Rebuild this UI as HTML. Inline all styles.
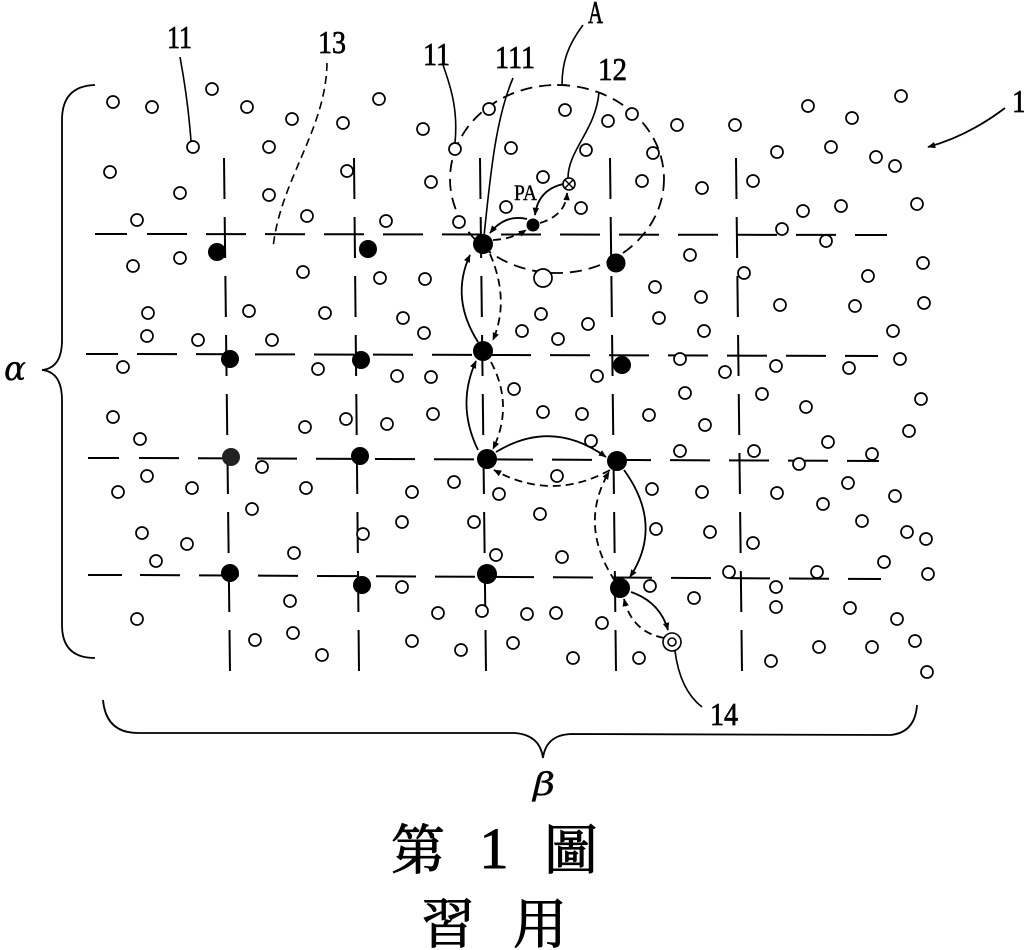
<!DOCTYPE html>
<html><head><meta charset="utf-8"><style>
html,body{margin:0;padding:0;background:#fff;}
svg{display:block;}
</style></head><body>
<svg width="1024" height="950" viewBox="0 0 1024 950" xmlns="http://www.w3.org/2000/svg">
<defs>
<marker id="ah" viewBox="0 0 10 10" refX="9" refY="5" markerWidth="11" markerHeight="8" markerUnits="userSpaceOnUse" orient="auto"><path d="M0,1 L10,5 L0,9 z" fill="#000"/></marker>
</defs>
<rect width="1024" height="950" fill="#fff"/>

<!-- grid horizontal -->
<g stroke="#000" stroke-width="2" fill="none">
<line x1="95" y1="234" x2="127" y2="234"/>
<line x1="147" y1="234" x2="887" y2="235" stroke-dasharray="40 19"/>
<line x1="86" y1="354" x2="118" y2="354"/>
<line x1="137" y1="354" x2="878" y2="356" stroke-dasharray="40 19"/>
<line x1="88" y1="458" x2="119" y2="458"/>
<line x1="139" y1="458" x2="879" y2="461" stroke-dasharray="40 19"/>
<line x1="88" y1="575" x2="122" y2="575"/>
<line x1="140" y1="575" x2="881" y2="579" stroke-dasharray="40 19"/>
<!-- verticals -->
<line x1="224" y1="158" x2="230" y2="672" stroke-dasharray="41 18"/>
<line x1="354" y1="158" x2="359" y2="672" stroke-dasharray="41 18"/>
<line x1="480" y1="158" x2="486" y2="672" stroke-dasharray="41 18"/>
<line x1="610" y1="158" x2="616" y2="672" stroke-dasharray="41 18"/>
<line x1="736" y1="158" x2="742" y2="672" stroke-dasharray="41 18"/>
</g>

<!-- dashed circle A -->
<ellipse cx="557" cy="179" rx="107" ry="94" fill="none" stroke="#000" stroke-width="1.8" stroke-dasharray="12 7"/>

<!-- open circles -->
<g fill="#fff" stroke="#000" stroke-width="1.7">
<circle cx="113" cy="102" r="6"/><circle cx="152" cy="107" r="6"/><circle cx="212" cy="89" r="6"/><circle cx="247" cy="107" r="6"/><circle cx="292" cy="119" r="6"/><circle cx="343" cy="123" r="6"/><circle cx="379" cy="99" r="6"/><circle cx="193" cy="147" r="6"/><circle cx="269" cy="147" r="6"/><circle cx="110" cy="172" r="6"/><circle cx="180" cy="193" r="6"/><circle cx="269" cy="195" r="6"/><circle cx="347" cy="171" r="6"/><circle cx="137" cy="220" r="6"/><circle cx="307" cy="216" r="6"/><circle cx="180" cy="258" r="6"/><circle cx="133" cy="266" r="6"/><circle cx="303" cy="272" r="6"/><circle cx="148" cy="313" r="6"/><circle cx="249" cy="311" r="6"/><circle cx="325" cy="313" r="6"/><circle cx="380" cy="278" r="6"/>
<circle cx="423" cy="129" r="6"/><circle cx="489" cy="109" r="6"/><circle cx="455" cy="149" r="6"/><circle cx="511" cy="148" r="6"/><circle cx="565" cy="110" r="6"/><circle cx="608" cy="121" r="6"/><circle cx="632" cy="114" r="6"/><circle cx="677" cy="125" r="6"/><circle cx="586" cy="150" r="6"/><circle cx="653" cy="153" r="6"/><circle cx="431" cy="182" r="6"/><circle cx="543" cy="177" r="6"/><circle cx="642" cy="181" r="6"/><circle cx="506" cy="207" r="6"/><circle cx="581" cy="208" r="6"/><circle cx="386" cy="221" r="6"/><circle cx="459" cy="222" r="6"/><circle cx="425" cy="279" r="6"/><circle cx="655" cy="287" r="6"/><circle cx="403" cy="318" r="6"/><circle cx="424" cy="333" r="6"/><circle cx="541" cy="314" r="6"/><circle cx="522" cy="331" r="6"/><circle cx="588" cy="324" r="6"/><circle cx="659" cy="318" r="6"/><circle cx="558" cy="339" r="6"/><circle cx="690" cy="255" r="6"/>
<circle cx="543" cy="278" r="9"/>
<circle cx="735" cy="125" r="6"/><circle cx="808" cy="106" r="6"/><circle cx="852" cy="118" r="6"/><circle cx="901" cy="96" r="6"/><circle cx="777" cy="152" r="6"/><circle cx="831" cy="147" r="6"/><circle cx="876" cy="157" r="6"/><circle cx="895" cy="166" r="6"/><circle cx="702" cy="188" r="6"/><circle cx="753" cy="181" r="6"/><circle cx="803" cy="211" r="6"/><circle cx="841" cy="206" r="6"/><circle cx="917" cy="204" r="6"/><circle cx="782" cy="229" r="6"/><circle cx="826" cy="241" r="6"/><circle cx="744" cy="273" r="6"/><circle cx="868" cy="276" r="6"/><circle cx="923" cy="263" r="6"/><circle cx="701" cy="297" r="6"/><circle cx="780" cy="305" r="6"/><circle cx="855" cy="306" r="6"/><circle cx="924" cy="303" r="6"/><circle cx="704" cy="331" r="6"/><circle cx="893" cy="331" r="6"/>
<circle cx="147" cy="336" r="6"/><circle cx="198" cy="340" r="6"/><circle cx="272" cy="340" r="6"/><circle cx="123" cy="367" r="6"/><circle cx="318" cy="369" r="6"/><circle cx="113" cy="417" r="6"/><circle cx="140" cy="439" r="6"/><circle cx="346" cy="419" r="6"/><circle cx="305" cy="427" r="6"/><circle cx="147" cy="476" r="6"/><circle cx="118" cy="492" r="6"/><circle cx="192" cy="488" r="6"/><circle cx="262" cy="467" r="6"/><circle cx="306" cy="488" r="6"/><circle cx="252" cy="509" r="6"/><circle cx="142" cy="533" r="6"/><circle cx="187" cy="544" r="6"/><circle cx="156" cy="561" r="6"/><circle cx="294" cy="553" r="6"/><circle cx="363" cy="534" r="6"/><circle cx="290" cy="601" r="6"/><circle cx="137" cy="619" r="6"/><circle cx="255" cy="640" r="6"/><circle cx="293" cy="633" r="6"/><circle cx="322" cy="655" r="6"/>
<circle cx="680" cy="359" r="6"/><circle cx="397" cy="376" r="6"/><circle cx="431" cy="377" r="6"/><circle cx="514" cy="389" r="6"/><circle cx="597" cy="376" r="6"/><circle cx="685" cy="393" r="6"/><circle cx="433" cy="414" r="6"/><circle cx="387" cy="424" r="6"/><circle cx="543" cy="412" r="6"/><circle cx="582" cy="414" r="6"/><circle cx="649" cy="415" r="6"/><circle cx="591" cy="441" r="6"/><circle cx="680" cy="451" r="6"/><circle cx="412" cy="492" r="6"/><circle cx="454" cy="482" r="6"/><circle cx="499" cy="494" r="6"/><circle cx="557" cy="476" r="6"/><circle cx="652" cy="489" r="6"/><circle cx="402" cy="522" r="6"/><circle cx="474" cy="522" r="6"/><circle cx="540" cy="514" r="6"/><circle cx="656" cy="529" r="6"/><circle cx="496" cy="555" r="6"/><circle cx="562" cy="557" r="6"/><circle cx="402" cy="587" r="6"/><circle cx="650" cy="586" r="6"/><circle cx="438" cy="613" r="6"/><circle cx="482" cy="611" r="6"/><circle cx="527" cy="614" r="6"/><circle cx="556" cy="613" r="6"/><circle cx="602" cy="623" r="6"/><circle cx="412" cy="641" r="6"/><circle cx="461" cy="650" r="6"/><circle cx="513" cy="643" r="6"/><circle cx="573" cy="658" r="6"/><circle cx="639" cy="658" r="6"/>
<circle cx="725" cy="372" r="6"/><circle cx="776" cy="366" r="6"/><circle cx="849" cy="368" r="6"/><circle cx="900" cy="359" r="6"/><circle cx="762" cy="394" r="6"/><circle cx="806" cy="407" r="6"/><circle cx="921" cy="399" r="6"/><circle cx="705" cy="425" r="6"/><circle cx="909" cy="431" r="6"/><circle cx="754" cy="451" r="6"/><circle cx="828" cy="442" r="6"/><circle cx="872" cy="454" r="6"/><circle cx="799" cy="464" r="6"/><circle cx="702" cy="492" r="6"/><circle cx="777" cy="493" r="6"/><circle cx="823" cy="504" r="6"/><circle cx="848" cy="483" r="6"/><circle cx="895" cy="496" r="6"/><circle cx="710" cy="532" r="6"/><circle cx="753" cy="543" r="6"/><circle cx="862" cy="521" r="6"/><circle cx="907" cy="532" r="6"/><circle cx="926" cy="539" r="6"/><circle cx="729" cy="572" r="6"/><circle cx="817" cy="572" r="6"/><circle cx="884" cy="562" r="6"/><circle cx="928" cy="574" r="6"/><circle cx="776" cy="587" r="6"/><circle cx="694" cy="598" r="6"/><circle cx="776" cy="607" r="6"/><circle cx="850" cy="608" r="6"/><circle cx="897" cy="619" r="6"/><circle cx="915" cy="641" r="6"/><circle cx="819" cy="647" r="6"/><circle cx="872" cy="647" r="6"/><circle cx="771" cy="661" r="6"/><circle cx="927" cy="672" r="6"/>
</g>

<!-- special markers -->
<g fill="#fff" stroke="#000" stroke-width="1.6">
<circle cx="569" cy="184" r="6"/>
<circle cx="672" cy="642" r="9"/>
<circle cx="672" cy="642" r="4"/>
</g>
<g stroke="#000" stroke-width="1.4">
<line x1="565" y1="180" x2="573" y2="188"/>
<line x1="573" y1="180" x2="565" y2="188"/>
</g>

<!-- filled dots -->
<g fill="#000">
<circle cx="217" cy="252" r="9"/><circle cx="368" cy="249" r="9"/><circle cx="483" cy="244" r="10"/><circle cx="616" cy="263" r="9.5"/>
<circle cx="230" cy="359" r="9"/><circle cx="361" cy="360" r="9"/><circle cx="483" cy="351" r="10"/><circle cx="622" cy="365" r="9"/>
<circle cx="231" cy="457" r="9" fill="#222"/><circle cx="360" cy="456" r="9"/><circle cx="487" cy="459" r="10"/><circle cx="617" cy="461" r="10"/>
<circle cx="230" cy="573" r="9"/><circle cx="362" cy="585" r="9"/><circle cx="487" cy="574" r="10"/><circle cx="620" cy="588" r="10"/>
<circle cx="533" cy="225" r="6.5"/>
</g>

<!-- arrows solid -->
<g fill="none" stroke="#000" stroke-width="1.8" marker-end="url(#ah)">
<path d="M478,342 Q450,298 470,255"/>
<path d="M478,450 Q456,405 476,361"/>
<path d="M496,452 Q552,418 606,457"/>
<path d="M624,470 Q664,525 630,577"/>
<path d="M631,592 Q660,602 668,630"/>
<path d="M527,219 Q505,214 490,233"/>
<path d="M563,184 Q538,190 535,215"/>
<path d="M1005,108 Q968,136 928,147"/>
</g>
<!-- arrows dashed -->
<g fill="none" stroke="#000" stroke-width="1.8" stroke-dasharray="8 5" marker-end="url(#ah)">
<path d="M490,254 Q510,300 493,340"/>
<path d="M491,362 Q514,405 493,449"/>
<path d="M610,470 Q552,502 494,470"/>
<path d="M615,581 Q578,525 609,472"/>
<path d="M664,638 Q632,632 624,599"/>
<path d="M493,240 Q512,239 526,230"/>
<path d="M540,223 Q566,215 567,193"/>
</g>

<!-- leaders -->
<g fill="none" stroke="#000" stroke-width="1.6">
<path d="M180,57 Q188,100 191,141"/>
<path d="M443,65 C452,90 458,112 455,143"/>
<path d="M513,78 C495,120 490,180 484,236"/>
<path d="M583,25 C568,45 562,62 562,85"/>
<line x1="557" y1="85" x2="567" y2="85"/>
<path d="M599,92 C596,130 568,150 568,178"/>
<path d="M702,707 Q680,690 675,651"/>
<path d="M327,63 C326,130 280,180 273,248" stroke-dasharray="8 5"/>
<!-- left brace -->
<path d="M95,85 Q62,86 62,120 L62,340 Q62,368 42,370 Q62,372 62,400 L62,625 Q62,658 95,658" stroke-width="1.8"/>
<!-- bottom brace -->
<path d="M103,700 Q106,733 138,733 L515,733 Q540,735 543,758 Q546,735 571,734 L890,735 Q915,733 917,705" stroke-width="1.8"/>
</g>

<!-- labels -->
<g font-family="'Liberation Serif', serif" font-size="32" fill="#000" stroke="#000" stroke-width="0.7">
<text x="167" y="48" textLength="25" lengthAdjust="spacingAndGlyphs">11</text>
<text x="318" y="53" textLength="28" lengthAdjust="spacingAndGlyphs">13</text>
<text x="423" y="65" textLength="27" lengthAdjust="spacingAndGlyphs">11</text>
<text x="495" y="68" textLength="40" lengthAdjust="spacingAndGlyphs">111</text>
<text x="588" y="23" textLength="15" lengthAdjust="spacingAndGlyphs">A</text>
<text x="598" y="80" textLength="29" lengthAdjust="spacingAndGlyphs">12</text>
<text x="1012" y="112" textLength="14" lengthAdjust="spacingAndGlyphs">1</text>
<text x="710" y="725" textLength="28" lengthAdjust="spacingAndGlyphs">14</text>
<text x="514" y="200" font-size="22" stroke-width="0.4" textLength="23" lengthAdjust="spacingAndGlyphs">PA</text>
<text x="4" y="380" font-size="34" stroke-width="0.3" font-style="italic" font-family="'DejaVu Serif', serif" textLength="22" lengthAdjust="spacingAndGlyphs">α</text>
<text x="533" y="795" font-size="32" stroke-width="0.3" font-style="italic" font-family="'DejaVu Serif', serif" textLength="22" lengthAdjust="spacingAndGlyphs">β</text>
</g>
<g font-family="'Liberation Serif', 'Noto Serif CJK SC', serif" font-size="54" fill="#000" stroke="#000" stroke-width="1" text-anchor="middle">
<text x="418" y="869">第</text>
<text x="494" y="868" font-size="58">1</text>
<text x="571" y="869">圖</text>
<text x="448" y="943">習</text>
<text x="540" y="943">用</text>
</g>
</svg>
</body></html>
